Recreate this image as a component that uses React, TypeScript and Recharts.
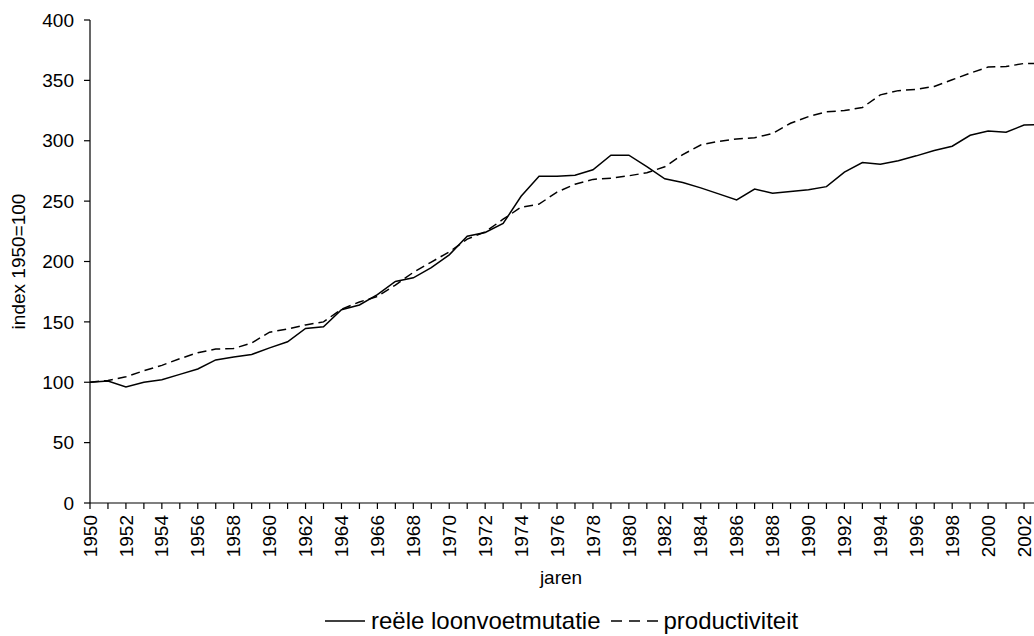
import React from 'react';
import { LineChart, Line, XAxis, YAxis, Legend } from 'recharts';

const years = [
  1950, 1951, 1952, 1953, 1954, 1955, 1956, 1957, 1958, 1959,
  1960, 1961, 1962, 1963, 1964, 1965, 1966, 1967, 1968, 1969,
  1970, 1971, 1972, 1973, 1974, 1975, 1976, 1977, 1978, 1979,
  1980, 1981, 1982, 1983, 1984, 1985, 1986, 1987, 1988, 1989,
  1990, 1991, 1992, 1993, 1994, 1995, 1996, 1997, 1998, 1999,
  2000, 2001, 2002, 2003,
];

const reeleLoonvoetmutatie = [
  100, 101, 96, 100, 102, 106.5, 111, 118.5, 121, 123,
  128.5, 133.5, 144.5, 146, 160, 164, 172.5, 183.5, 186.5, 195,
  205.5, 221, 224, 231.5, 254, 270.5, 270.5, 271.5, 276, 288,
  288, 278.5, 268.5, 265.5, 261, 256, 251, 260, 256.5, 258,
  259.5, 262, 274, 282, 280.5, 283.5, 287.5, 292, 295.5, 304.5,
  308, 307, 313, 313.5,
];

const productiviteit = [
  100, 101.5, 104.5, 109.5, 114, 119.5, 124.5, 127.5, 128, 132.5,
  141.5, 144, 147.5, 150, 160.5, 166.5, 171, 180.5, 191, 199.5,
  208, 218.5, 224.5, 235, 245, 247.5, 257.5, 264, 268, 269,
  271, 273.5, 278.5, 288.5, 296.5, 299.5, 301.5, 302.5, 306, 314.5,
  320, 324, 325, 327.5, 338, 341.5, 342.5, 345, 350.5, 356,
  361, 361.5, 364, 364,
];

const yTicks = [0, 50, 100, 150, 200, 250, 300, 350, 400];

const seriesNames = ['reële loonvoetmutatie', 'productiviteit'];

const data = years.map((y, i) => ({
  year: y,
  loon: reeleLoonvoetmutatie[i],
  prod: productiviteit[i],
}));

const FONT = '"Liberation Sans", Arial, sans-serif';
const FS = 19;

const XTick = (props: any) => {
  const { x, y, payload } = props;
  if (payload.value % 2 !== 0) return null;
  return (
    <text
      x={x}
      y={y}
      dy="0.35em"
      textAnchor="end"
      transform={`rotate(-90, ${x}, ${y})`}
      fontFamily={FONT}
      fontSize={FS}
      fill="#000"
    >
      {payload.value}
    </text>
  );
};

const LegendContent = () => (
  <div
    style={{
      display: 'flex',
      alignItems: 'center',
      fontFamily: FONT,
      fontSize: 24,
      lineHeight: '28px',
      color: '#000',
      whiteSpace: 'nowrap',
    }}
  >
    <svg width={40} height={10} style={{ marginRight: 6 }}>
      <line x1={0} y1={5} x2={40} y2={5} stroke="#000" strokeWidth={1.5} />
    </svg>
    <span>{seriesNames[0]}</span>
    <svg width={47} height={10} style={{ marginLeft: 11, marginRight: 5 }}>
      <line x1={0} y1={5} x2={47} y2={5} stroke="#000" strokeWidth={1.5} strokeDasharray="11 7" />
    </svg>
    <span>{seriesNames[1]}</span>
  </div>
);

export default function App() {
  return (
    <div
      style={{
        position: 'fixed',
        left: 0,
        top: 0,
        width: 1034,
        height: 636,
        overflow: 'hidden',
        background: '#fff',
      }}
    >
      <LineChart
        width={1042}
        height={636}
        data={data}
        margin={{ top: 20, right: 0, left: 0, bottom: 0 }}
      >
        <XAxis
          dataKey="year"
          type="number"
          domain={[1950, 2003]}
          ticks={years}
          interval={0}
          height={133}
          tickSize={6}
          tickMargin={6}
          tick={<XTick />}
          stroke="#000"
          axisLine={{ stroke: '#000', strokeWidth: 1.2 }}
          tickLine={{ stroke: '#000', strokeWidth: 1.2 }}
          label={{
            content: (p: any) => {
              const vb = p.viewBox;
              return (
                <text
                  x={vb.x + vb.width / 2 - 5}
                  y={584}
                  textAnchor="middle"
                  fontFamily={FONT}
                  fontSize={FS}
                  fill="#000"
                >
                  jaren
                </text>
              );
            },
          }}
        />
        <YAxis
          type="number"
          domain={[0, 400]}
          ticks={yTicks}
          interval={0}
          width={90}
          tickSize={6}
          tickMargin={10}
          tick={{ fontFamily: FONT, fontSize: FS, fill: '#000' }}
          axisLine={{ stroke: '#000', strokeWidth: 1.2 }}
          tickLine={{ stroke: '#000', strokeWidth: 1.2 }}
          label={{
            content: (p: any) => {
              const vb = p.viewBox;
              const cy = vb.y + vb.height / 2;
              return (
                <text
                  x={25}
                  y={cy}
                  textAnchor="middle"
                  transform={`rotate(-90, 25, ${cy})`}
                  fontFamily={FONT}
                  fontSize={FS}
                  fill="#000"
                >
                  index 1950=100
                </text>
              );
            },
          }}
        />
        <Legend
          verticalAlign="middle"
          align="center"
          layout="horizontal"
          content={<LegendContent />}
          wrapperStyle={{ top: 607, left: 325, width: 'auto', height: 'auto' }}
        />
        <Line
          type="linear"
          dataKey="loon"
          name={seriesNames[0]}
          stroke="#000"
          strokeWidth={1.5}
          dot={false}
          activeDot={false}
          isAnimationActive={false}
        />
        <Line
          type="linear"
          dataKey="prod"
          name={seriesNames[1]}
          stroke="#000"
          strokeWidth={1.5}
          strokeDasharray="9 5"
          dot={false}
          activeDot={false}
          isAnimationActive={false}
        />
      </LineChart>
    </div>
  );
}
